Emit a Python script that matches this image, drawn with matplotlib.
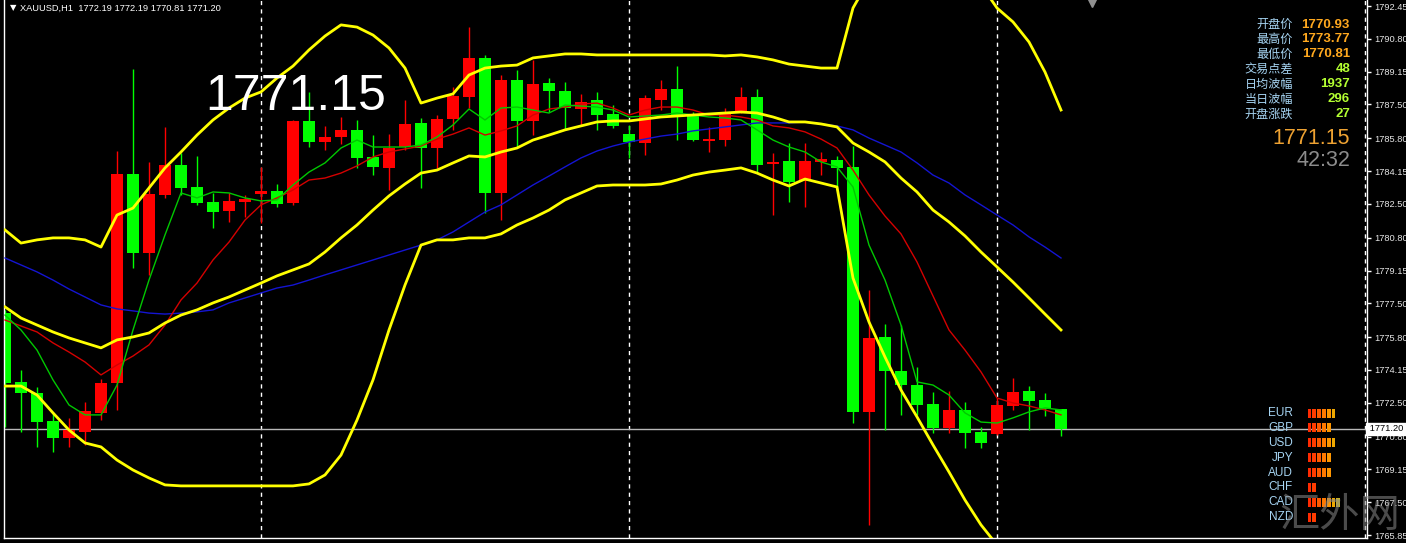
import matplotlib
matplotlib.use('Agg')
import matplotlib.pyplot as plt
import matplotlib.transforms as mtransforms
from matplotlib.patches import Rectangle
import numpy as np

plt.rcParams['font.family'] = ['Liberation Sans', 'DejaVu Sans']

# ---------------- data (XAUUSD H1) ----------------
opens = [1777.01, 1773.55, 1772.99, 1771.58, 1770.73, 1771.03, 1771.99, 1773.50, 1784.00, 1780.03,
         1782.95, 1784.46, 1783.35, 1782.60, 1782.14, 1782.60, 1783.00, 1783.15, 1782.55, 1786.67,
         1785.61, 1785.86, 1786.22, 1784.86, 1784.31, 1785.36, 1786.57, 1785.31, 1786.77, 1787.87,
         1789.84, 1783.05, 1788.73, 1786.67, 1788.58, 1788.18, 1787.27, 1787.72, 1787.02, 1786.01,
         1785.56, 1787.72, 1788.28, 1786.97, 1785.66, 1785.71, 1787.12, 1787.87, 1784.51, 1784.66,
         1783.65, 1784.61, 1784.71, 1784.36, 1772.04, 1775.81, 1774.10, 1773.39, 1772.44, 1771.23,
         1772.14, 1771.03, 1770.93, 1772.34, 1773.09, 1772.64, 1772.19]
highs = [1777.17, 1774.15, 1773.29, 1772.04, 1771.74, 1772.54, 1773.70, 1785.16, 1789.28, 1784.61,
         1786.37, 1785.06, 1784.91, 1783.05, 1783.05, 1782.95, 1784.36, 1783.50, 1786.72, 1788.13,
         1786.42, 1786.87, 1786.72, 1785.96, 1786.01, 1787.72, 1786.82, 1786.97, 1788.38, 1791.39,
         1789.99, 1788.98, 1789.23, 1789.74, 1788.83, 1788.63, 1788.03, 1788.13, 1787.47, 1786.47,
         1787.98, 1788.73, 1789.43, 1787.12, 1786.37, 1787.32, 1788.38, 1788.28, 1785.06, 1785.56,
         1785.56, 1785.11, 1784.91, 1785.41, 1778.17, 1776.46, 1776.41, 1774.30, 1773.04, 1773.09,
         1772.54, 1771.28, 1772.74, 1773.77, 1773.34, 1772.99, 1772.19]
lows = [1771.28, 1771.03, 1770.28, 1770.03, 1770.28, 1770.38, 1771.63, 1772.14, 1779.28, 1778.93,
        1782.80, 1782.95, 1782.45, 1781.29, 1781.59, 1781.84, 1781.54, 1782.34, 1782.45, 1785.36,
        1785.21, 1785.51, 1784.31, 1783.95, 1783.20, 1785.21, 1783.30, 1784.31, 1786.22, 1787.32,
        1782.04, 1781.69, 1785.36, 1785.96, 1787.12, 1786.22, 1786.47, 1786.22, 1786.32, 1784.81,
        1784.96, 1787.22, 1785.71, 1785.66, 1785.11, 1785.41, 1787.07, 1784.10, 1781.94, 1782.60,
        1782.34, 1783.95, 1783.20, 1771.48, 1766.36, 1771.13, 1771.89, 1771.89, 1770.98, 1770.98,
        1770.23, 1770.23, 1770.88, 1772.14, 1771.13, 1771.84, 1770.81]
closes = [1773.50, 1772.99, 1771.53, 1770.73, 1771.13, 1772.09, 1773.50, 1784.00, 1780.03, 1783.00,
          1784.46, 1783.30, 1782.55, 1782.09, 1782.65, 1782.75, 1783.15, 1782.50, 1786.67, 1785.61,
          1785.86, 1786.22, 1784.81, 1784.36, 1785.31, 1786.52, 1785.31, 1786.77, 1787.93, 1789.84,
          1783.05, 1788.73, 1786.67, 1788.53, 1788.18, 1787.32, 1787.62, 1786.97, 1786.42, 1785.61,
          1787.82, 1788.28, 1786.97, 1785.71, 1785.76, 1787.12, 1787.87, 1784.46, 1784.61, 1783.60,
          1784.66, 1784.76, 1784.31, 1772.04, 1775.76, 1774.10, 1773.39, 1772.39, 1771.23, 1772.14,
          1770.98, 1770.48, 1772.39, 1773.04, 1772.59, 1772.19, 1771.20]

ma_fast = [1776.91, 1776.16, 1775.15, 1773.65, 1772.39, 1771.89, 1771.89, 1773.39, 1776.16, 1778.67,
           1780.94, 1783.05, 1782.80, 1783.10, 1783.05, 1782.80, 1782.65, 1782.70, 1783.45, 1784.10,
           1784.56, 1785.31, 1785.71, 1785.36, 1785.36, 1785.36, 1785.46, 1785.86, 1786.47, 1787.27,
           1786.72, 1787.32, 1787.37, 1787.22, 1787.07, 1787.47, 1787.42, 1787.37, 1787.22, 1786.87,
           1786.92, 1786.97, 1787.07, 1786.97, 1786.87, 1786.82, 1786.72, 1786.22, 1785.71, 1785.36,
           1785.11, 1784.61, 1784.36, 1783.35, 1780.43, 1778.67, 1776.41, 1773.55, 1773.39, 1772.89,
           1771.99, 1771.53, 1771.48, 1771.74, 1772.04, 1772.24, 1772.14]
ma_mid = [1776.66, 1776.36, 1776.06, 1775.51, 1775.05, 1774.55, 1773.90, 1774.40, 1774.85, 1775.41,
          1776.41, 1777.67, 1778.52, 1779.68, 1780.58, 1781.69, 1782.45, 1782.80, 1783.20, 1783.70,
          1783.80, 1784.05, 1784.41, 1784.86, 1785.11, 1785.26, 1785.41, 1785.76, 1786.01, 1786.32,
          1785.96, 1786.17, 1786.42, 1786.97, 1787.27, 1787.37, 1787.52, 1787.57, 1787.32, 1786.97,
          1787.22, 1787.37, 1787.37, 1787.22, 1786.97, 1786.97, 1786.87, 1786.72, 1786.42, 1786.32,
          1786.12, 1785.76, 1785.31, 1784.20, 1782.95, 1781.89, 1780.99, 1779.58, 1777.87, 1776.16,
          1775.15, 1774.05, 1772.74, 1772.49, 1772.34, 1772.14, 1771.89]
ma_slow = [1779.78, 1779.43, 1779.08, 1778.67, 1778.22, 1777.82, 1777.42, 1777.22, 1777.12, 1777.01,
           1776.96, 1777.01, 1777.07, 1777.17, 1777.52, 1777.77, 1778.02, 1778.27, 1778.42, 1778.67,
           1778.93, 1779.18, 1779.43, 1779.68, 1779.93, 1780.18, 1780.43, 1780.69, 1781.09, 1781.59,
           1782.09, 1782.45, 1782.95, 1783.45, 1783.90, 1784.36, 1784.81, 1785.16, 1785.41, 1785.61,
           1785.76, 1785.91, 1786.01, 1786.17, 1786.27, 1786.37, 1786.47, 1786.57, 1786.57, 1786.57,
           1786.62, 1786.52, 1786.42, 1786.22, 1785.81, 1785.46, 1785.11, 1784.56, 1783.95, 1783.55,
           1782.95, 1782.45, 1781.94, 1781.44, 1780.84, 1780.33, 1779.78]
bb_upper = [1781.19, 1780.53, 1780.69, 1780.79, 1780.79, 1780.69, 1780.33, 1781.94, 1782.29, 1783.30,
            1784.31, 1785.11, 1785.96, 1786.72, 1787.32, 1787.82, 1788.13, 1788.83, 1789.43, 1790.24,
            1790.94, 1791.50, 1791.39, 1790.99, 1790.34, 1789.33, 1787.57, 1787.82, 1788.03, 1788.98,
            1789.33, 1789.43, 1789.48, 1789.84, 1789.94, 1790.04, 1790.04, 1789.99, 1789.99, 1789.99,
            1789.99, 1789.99, 1789.99, 1789.99, 1789.99, 1789.94, 1789.99, 1789.89, 1789.74, 1789.53,
            1789.43, 1789.33, 1789.33, 1792.35, 1793.76, 1794.76, 1795.27, 1795.27, 1795.01, 1794.76,
            1794.26, 1793.51, 1792.35, 1791.65, 1790.64, 1789.13, 1787.22]
bb_middle = [1777.32, 1776.76, 1776.41, 1776.06, 1775.76, 1775.51, 1775.26, 1775.66, 1775.81, 1776.01,
             1776.51, 1776.91, 1777.17, 1777.52, 1777.82, 1778.17, 1778.52, 1778.88, 1779.18, 1779.48,
             1780.08, 1780.79, 1781.44, 1782.19, 1782.90, 1783.50, 1784.05, 1784.20, 1784.56, 1784.91,
             1784.86, 1785.11, 1785.31, 1785.71, 1785.96, 1786.22, 1786.42, 1786.62, 1786.67, 1786.67,
             1786.77, 1786.87, 1786.92, 1786.97, 1787.02, 1787.07, 1787.12, 1787.07, 1786.87, 1786.62,
             1786.62, 1786.52, 1786.37, 1785.56, 1785.11, 1784.61, 1783.80, 1783.10, 1782.19, 1781.59,
             1780.89, 1780.08, 1779.33, 1778.57, 1777.77, 1776.96, 1776.16]
bb_lower = [1773.34, 1773.34, 1772.89, 1771.99, 1771.13, 1770.48, 1770.28, 1769.62, 1769.12, 1768.72,
            1768.37, 1768.32, 1768.32, 1768.32, 1768.32, 1768.32, 1768.32, 1768.32, 1768.32, 1768.42,
            1768.87, 1769.87, 1771.63, 1773.65, 1776.16, 1778.42, 1780.43, 1780.69, 1780.69, 1780.79,
            1780.79, 1780.99, 1781.44, 1781.79, 1782.19, 1782.70, 1783.05, 1783.40, 1783.45, 1783.45,
            1783.45, 1783.50, 1783.70, 1783.95, 1784.10, 1784.20, 1784.31, 1784.05, 1783.70, 1783.40,
            1783.75, 1783.55, 1783.35, 1778.77, 1776.56, 1774.80, 1773.14, 1771.79, 1770.38, 1769.02,
            1767.61, 1766.36, 1765.35, 1764.60, 1763.84, 1763.09, 1762.58]

price_ticks = [1792.45, 1790.80, 1789.15, 1787.50, 1785.80, 1784.15, 1782.50, 1780.80, 1779.15,
               1777.50, 1775.80, 1774.15, 1772.50, 1770.80, 1769.15, 1767.50, 1765.85]
tick_labels = ['%.2f' % v for v in price_ticks]
separators = [16, 39, 62, 85]
last_price = 1771.20
big_bid = '1771.15'
header = 'XAUUSD,H1  1772.19 1772.19 1770.81 1771.20'
info_labels = ['开盘价', '最高价', '最低价', '交易点差', '日均波幅', '当日波幅', '开盘涨跌']
info_values = ['1770.93', '1773.77', '1770.81', '48', '1937', '296', '27']
countdown = '42:32'
currencies = ['EUR', 'GBP', 'USD', 'JPY', 'AUD', 'CHF', 'CAD', 'NZD']
strength = [6, 5, 6, 5, 5, 2, 7, 2]

# ---------------- figure ----------------
W, H = 1406, 543
fig = plt.figure(figsize=(W / 100, H / 100), dpi=100, facecolor='black')
ax = fig.add_axes([4 / W, 5 / H, 1363 / W, 538 / H])
ax.set_facecolor('black')
ax.set_xlim(-1 / 16, 1362 / 16)
ax.set_ylim(1765.70, 1792.752)

for s in ['left', 'bottom', 'right']:
    ax.spines[s].set_color('white')
    ax.spines[s].set_linewidth(1)
ax.spines['top'].set_visible(False)
ax.set_xticks([])
ax.yaxis.tick_right()
ax.set_yticks(price_ticks)
ax.set_yticklabels(tick_labels)
ax.tick_params(axis='y', colors='white', labelcolor='#e6e6e6', labelsize=6.7,
               length=3, width=1, direction='out', pad=2)

# separators and last price line
for s in separators:
    ax.axvline(s, color='white', lw=1, ls=(0, (3, 3)), zorder=1)
ax.axhline(last_price, color='#b8b8b8', lw=1, zorder=1.5)

# candles
o = np.array(opens); h = np.array(highs); l = np.array(lows); c = np.array(closes)
x = np.arange(len(o))
up = c >= o
cols = np.where(up, '#ff0000', '#00ff00')
ax.vlines(x, l, h, colors=cols, lw=1, zorder=2)
body_bottom = np.minimum(o, c)
body_h = np.maximum(np.abs(c - o), 0.06)
ax.bar(x, body_h, bottom=body_bottom, width=0.69, color=cols, linewidth=0, zorder=2.2)

# indicators
ax.plot(x, ma_slow, color='#1414d2', lw=1, zorder=3)
ax.plot(x, ma_mid, color='#d40000', lw=1, zorder=3)
ax.plot(x, ma_fast, color='#00c800', lw=1, zorder=3.1)
for band in (bb_upper, bb_middle, bb_lower):
    ax.plot(x, band, color='#ffff00', lw=2, zorder=3.2)

# last price box on the axis
trans = mtransforms.blended_transform_factory(ax.transAxes, ax.transData)
ax.text(1.0, last_price, ' %.2f ' % last_price, transform=trans, ha='left', va='center',
        fontsize=6.7, color='black', zorder=10, clip_on=False,
        bbox=dict(boxstyle='square,pad=0.15', facecolor='white', edgecolor='white'))

# ---------------- overlay (pixel coordinates) ----------------
ov = fig.add_axes([0, 0, 1, 1], zorder=10)
ov.set_xlim(0, W)
ov.set_ylim(H, 0)
ov.axis('off')
ov.patch.set_alpha(0)

ov.text(13, 8, '▼', color='white', fontsize=6, ha='center', va='center', family=['DejaVu Sans'])
ov.text(20, 8, header, color='white', fontsize=6.7, ha='left', va='center')
ov.plot([1092], [3], marker='v', color='#909090', markersize=6)

ov.text(205, 110, big_bid, color='white', fontsize=36, ha='left', va='baseline')

cjk = ['Noto Sans CJK SC', 'DejaVu Sans']
for i, (lab, val) in enumerate(zip(info_labels, info_values)):
    yy = 24.5 + 14.9 * i
    ov.text(1293, yy, lab, color='#a6d4f2', fontsize=8.7, ha='right', va='center', family=cjk)
    vc = '#ffa81e' if i < 3 else '#b4ff32'
    ov.text(1350, yy, val, color=vc, fontsize=9.5, fontweight='bold', ha='right', va='center')
ov.text(1350, 139, big_bid, color='#eea232', fontsize=15.5, ha='right', va='center')
ov.text(1350, 161, countdown, color='#8c8c8c', fontsize=15.5, ha='right', va='center')

bar_cols = ['#ff2a00', '#ff3c00', '#ff5a00', '#ff7800', '#ff9600', '#eea800', '#c8b428']
for i, (cur, n) in enumerate(zip(currencies, strength)):
    yy = 413 + 14.9 * i
    ov.text(1293, yy, cur, color='#a6d4f2', fontsize=8.5, ha='right', va='center')
    for j in range(n):
        ov.add_patch(Rectangle((1307.5 + 4.8 * j, yy - 4.5), 3.8, 9, facecolor=bar_cols[j],
                               edgecolor='none'))

ov.text(1340, 516, '汇外网', color='#8a8a8a', alpha=0.55, fontsize=29, ha='center', va='center',
        family=cjk)

fig.savefig('out.png', dpi=100, facecolor='black')
